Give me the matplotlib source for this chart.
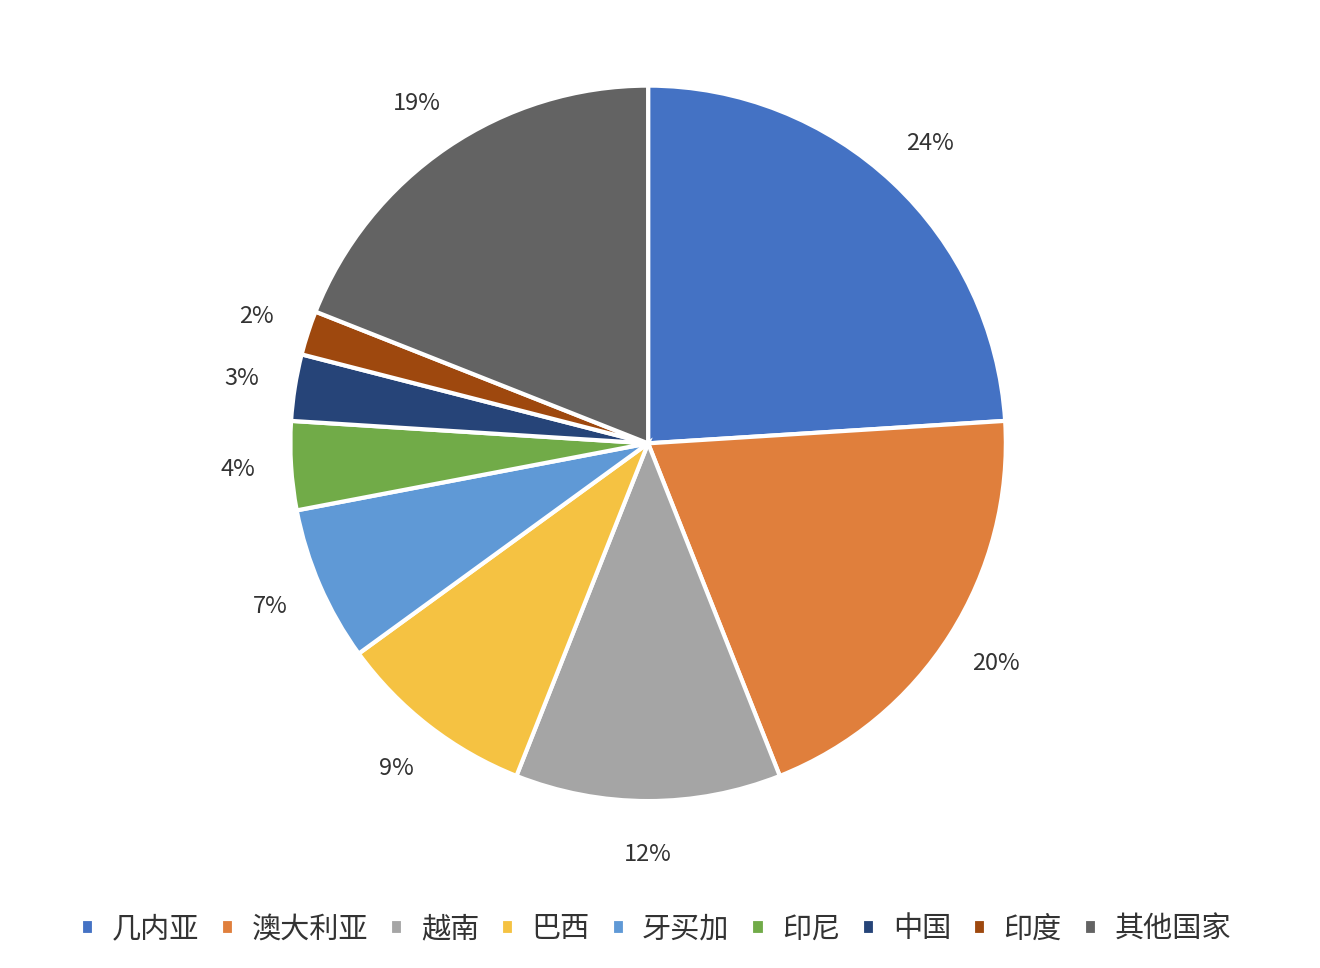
import matplotlib
matplotlib.use("Agg")
import matplotlib.pyplot as plt

plt.rcParams['font.family'] = ['Noto Sans CJK SC', 'DejaVu Sans']

countries = ["几内亚", "澳大利亚", "越南", "巴西", "牙买加", "印尼", "中国", "印度", "其他国家"]
shares = [24, 20, 12, 9, 7, 4, 3, 2, 19]
colors = ["#4472C4", "#E07F3C", "#A5A5A5", "#F5C242", "#5F99D6", "#71AB48", "#264478", "#9E480E", "#636363"]

fig = plt.figure(figsize=(13.2, 9.68), dpi=100)
ax = fig.add_axes([0.491 - 0.271, 0.542 - 0.37, 0.542, 0.74])
wedges, texts, autotexts = ax.pie(
    shares, colors=colors, startangle=90, counterclock=False,
    autopct='%d%%', pctdistance=1.15,
    wedgeprops=dict(edgecolor='white', linewidth=3),
    textprops=dict(fontsize=17, color='#333333'))
ax.set_aspect('equal')
ax.set_xlim(-1, 1)
ax.set_ylim(-1, 1)

fig.legend(wedges, countries, loc='center', bbox_to_anchor=(0.497, 0.04), ncol=9,
           frameon=False, fontsize=21, handlelength=0.45, handleheight=0.45,
           columnspacing=0.75, handletextpad=0.6, labelcolor='#333333')
fig.savefig("out.png", dpi=100, facecolor='white')
